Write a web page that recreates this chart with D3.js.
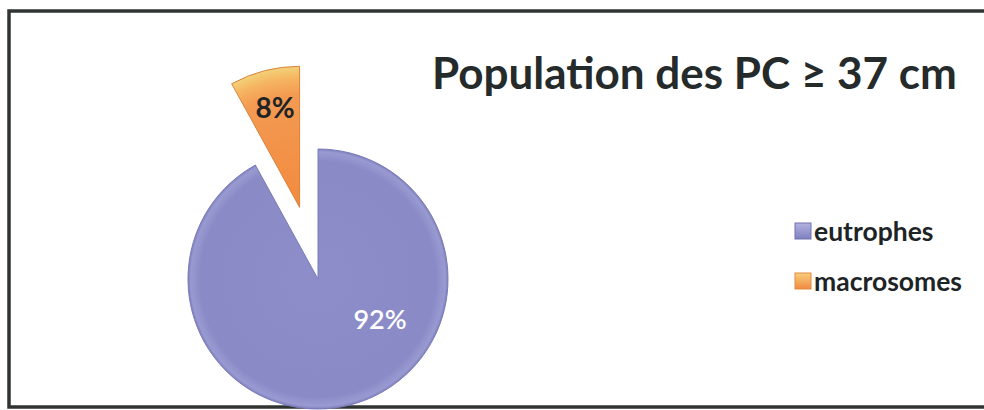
<!DOCTYPE html>
<html><head><meta charset="utf-8">
<script src="https://cdn.jsdelivr.net/npm/d3@7"></script>
<style>html,body{margin:0;padding:0;background:#fff;}svg{display:block;}</style>
</head><body>
<script>
const categories = ["eutrophes", "macrosomes"];
const values = [92, 8];
const labels = ["92%", "8%"];
const title = "Population des PC \u2265 37 cm";

const W = 984, H = 410;
const svg = d3.select("body").append("svg").attr("width", W).attr("height", H);
const defs = svg.append("defs");

const gP = defs.append("radialGradient").attr("id", "gP").attr("gradientUnits", "userSpaceOnUse")
  .attr("cx", 0).attr("cy", 0).attr("r", 131);
gP.append("stop").attr("offset", "0%").attr("stop-color", "#8d8dca");
gP.append("stop").attr("offset", "90%").attr("stop-color", "#8a8ac7");
gP.append("stop").attr("offset", "97%").attr("stop-color", "#9a9ad2");
gP.append("stop").attr("offset", "100%").attr("stop-color", "#7676b6");
const gO = defs.append("radialGradient").attr("id", "gO").attr("gradientUnits", "userSpaceOnUse")
  .attr("cx", 0).attr("cy", 0).attr("r", 141);
gO.append("stop").attr("offset", "0%").attr("stop-color", "#f28a3e");
gO.append("stop").attr("offset", "80%").attr("stop-color", "#f39a52");
gO.append("stop").attr("offset", "92%").attr("stop-color", "#f6b661");
gO.append("stop").attr("offset", "100%").attr("stop-color", "#f2d27a");

const lgP = defs.append("linearGradient").attr("id", "lgP").attr("x1", 0).attr("y1", 0).attr("x2", 0).attr("y2", 1);
lgP.append("stop").attr("offset", "0%").attr("stop-color", "#b3b3e0");
lgP.append("stop").attr("offset", "100%").attr("stop-color", "#8080c0");
const lgO = defs.append("linearGradient").attr("id", "lgO").attr("x1", 0).attr("y1", 0).attr("x2", 0).attr("y2", 1);
lgO.append("stop").attr("offset", "0%").attr("stop-color", "#f8cf7c");
lgO.append("stop").attr("offset", "100%").attr("stop-color", "#f0893f");

const fills = ["url(#gP)", "url(#gO)"];
const strokes = ["#7a7ab8", "#d9823a"];
const legendFills = ["url(#lgP)", "url(#lgO)"];
const legendStrokes = ["#7070b0", "#e08a45"];

// frame
svg.append("rect").attr("x", 9).attr("y", 11).attr("width", 1000).attr("height", 396)
  .attr("fill", "none").attr("stroke", "#2f3432").attr("stroke-width", 3.5);

const cx = 318, cy = 279;
const radii = [130, 141];
const explode = [0, 74];

const pie = d3.pie().sort(null).startAngle(0).endAngle(2 * Math.PI);
const arcs = pie(values);

const g = svg.append("g").attr("transform", `translate(${cx},${cy})`);
arcs.forEach((a, i) => {
  const mid = (a.startAngle + a.endAngle) / 2;
  const dx = Math.sin(mid) * explode[i], dy = -Math.cos(mid) * explode[i];
  const arc = d3.arc().innerRadius(0).outerRadius(radii[i]);
  g.append("path").attr("d", arc(a)).attr("transform", `translate(${dx},${dy})`)
    .attr("fill", fills[i]).attr("stroke", strokes[i]).attr("stroke-width", 1);
});

// data labels
const labelPos = [[380, 318], [275, 107]];
const labelColor = ["#ffffff", "#1e2426"];
const labelSize = [27, 28];
const labelWeight = [600, 700];
arcs.forEach((a, i) => {
  svg.append("text").attr("x", labelPos[i][0]).attr("y", labelPos[i][1])
    .attr("text-anchor", "middle").attr("dominant-baseline", "central")
    .attr("font-family", "Lato, 'Open Sans', sans-serif").attr("font-weight", labelWeight[i])
    .attr("font-size", labelSize[i]).attr("fill", labelColor[i]).text(labels[i]);
});

// title
svg.append("text").attr("x", 432).attr("y", 89)
  .attr("font-family", "Lato, 'Open Sans', sans-serif").attr("font-weight", 700)
  .attr("font-size", 44).attr("fill", "#252a2b").text(title);

// legend
const ly = [231, 281];
categories.forEach((c, i) => {
  svg.append("rect").attr("x", 795).attr("y", ly[i] - 8).attr("width", 16).attr("height", 16)
    .attr("fill", legendFills[i]).attr("stroke", legendStrokes[i]).attr("stroke-width", 1);
  svg.append("text").attr("x", 814).attr("y", ly[i]).attr("dominant-baseline", "central")
    .attr("font-family", "Lato, 'Open Sans', sans-serif").attr("font-weight", 700)
    .attr("font-size", 26.5).attr("fill", "#1e2426").text(c);
});
</script>
</body></html>
